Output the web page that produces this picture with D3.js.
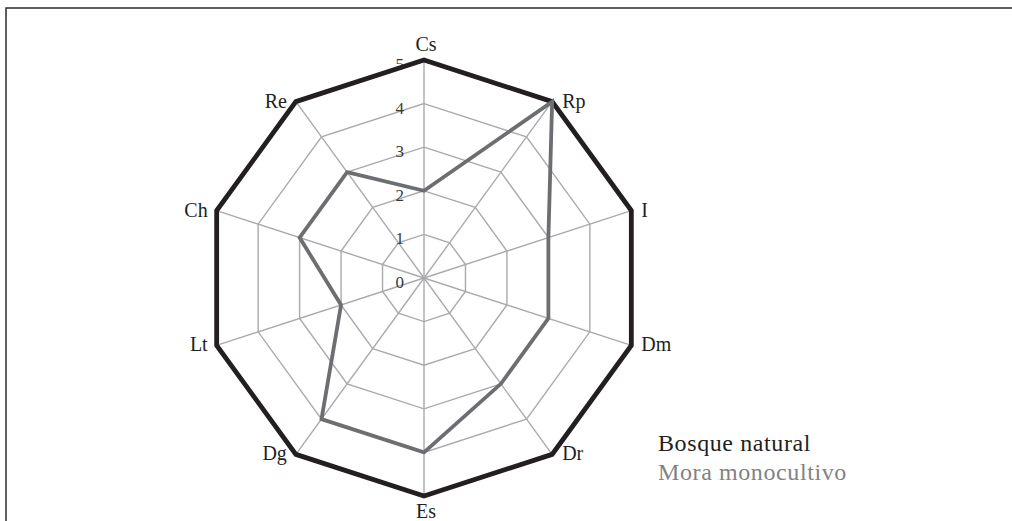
<!DOCTYPE html>
<html>
<head>
<meta charset="utf-8">
<script src="https://cdn.jsdelivr.net/npm/d3@7"></script>
<style>
  html, body { margin: 0; padding: 0; background: #fff; }
  svg { display: block; }
  text { font-family: "Liberation Serif", "DejaVu Serif", serif; }
</style>
</head>
<body>
<svg id="chart" width="1012" height="521"></svg>
<script>
const axes = ["Cs", "Rp", "I", "Dm", "Dr", "Es", "Dg", "Lt", "Ch", "Re"];
const bosqueNatural = [5, 5, 5, 5, 5, 5, 5, 5, 5, 5];
const moraMonocultivo = [2, 5, 3, 3, 3, 4, 4, 2, 3, 3];
const tickValues = [0, 1, 2, 3, 4, 5];
const seriesNames = ["Bosque natural", "Mora monocultivo"];

const W = 1012, H = 521;
const cx = 424, cy = 278, R = 218;
const svg = d3.select("#chart");

// frame (top and left edges visible)
svg.append("rect")
  .attr("x", 6).attr("y", 8)
  .attr("width", W + 20).attr("height", H + 20)
  .attr("fill", "none").attr("stroke", "#2b2b2b").attr("stroke-width", 1.5);

const r = d3.scaleLinear().domain([0, 5]).range([0, R]);
const angle = d3.scalePoint().domain(axes).range([0, 2 * Math.PI * (axes.length - 1) / axes.length]);

const g = svg.append("g").attr("transform", `translate(${cx},${cy})`);

const radial = d3.lineRadial()
  .angle((d, i) => angle(axes[i]))
  .radius(d => r(d))
  .curve(d3.curveLinearClosed);

// grid rings
g.selectAll(".ring").data(tickValues.filter(t => t > 0)).join("path")
  .attr("class", "ring")
  .attr("d", t => radial(axes.map(() => t)))
  .attr("fill", "none").attr("stroke", "#a9aaad").attr("stroke-width", 1.4);

// spokes
g.selectAll(".spoke").data(axes).join("line")
  .attr("class", "spoke")
  .attr("x1", 0).attr("y1", 0)
  .attr("x2", a => r(5) * Math.sin(angle(a)))
  .attr("y2", a => -r(5) * Math.cos(angle(a)))
  .attr("stroke", "#a9aaad").attr("stroke-width", 1.4);

// tick labels
g.selectAll(".tick").data(tickValues).join("text")
  .attr("class", "tick")
  .attr("x", -20)
  .attr("y", t => -r(t) + 10)
  .attr("text-anchor", "end")
  .attr("font-size", 17)
  .attr("fill", "#3a3a3a")
  .text(t => t);

// series
const seriesData = [bosqueNatural, moraMonocultivo];
const colors = ["#231f20", "#6d6e71"];
const widths = [4.8, 3.8];
g.selectAll(".series").data(seriesData).join("path")
  .attr("class", "series")
  .attr("d", d => radial(d))
  .attr("fill", "none")
  .attr("stroke", (d, i) => colors[i])
  .attr("stroke-width", (d, i) => widths[i])
  .attr("stroke-linejoin", "miter");

// axis labels
g.selectAll(".axis-label").data(axes).join("text")
  .attr("class", "axis-label")
  .attr("font-size", 20)
  .attr("fill", "#231f20")
  .each(function(a) {
    const ang = angle(a);
    const s = Math.sin(ang), c = Math.cos(ang);
    const vx = r(5) * s, vy = -r(5) * c;
    const el = d3.select(this);
    if (Math.abs(s) < 0.1) {
      el.attr("text-anchor", "middle").attr("x", vx + 2)
        .attr("y", c > 0 ? vy - 9 : vy + 22);
    } else {
      el.attr("text-anchor", s > 0 ? "start" : "end")
        .attr("x", vx + (s > 0 ? 10 : -9))
        .attr("y", vy + 6);
    }
  })
  .text(a => a);

// legend
const legendColors = ["#231f20", "#808285"];
svg.selectAll(".legend").data(seriesNames).join("text")
  .attr("class", "legend")
  .attr("x", 658)
  .attr("y", (d, i) => 451 + i * 29)
  .attr("font-size", 24)
  .attr("letter-spacing", 0.6)
  .attr("fill", (d, i) => legendColors[i])
  .text(d => d);
</script>
</body>
</html>
